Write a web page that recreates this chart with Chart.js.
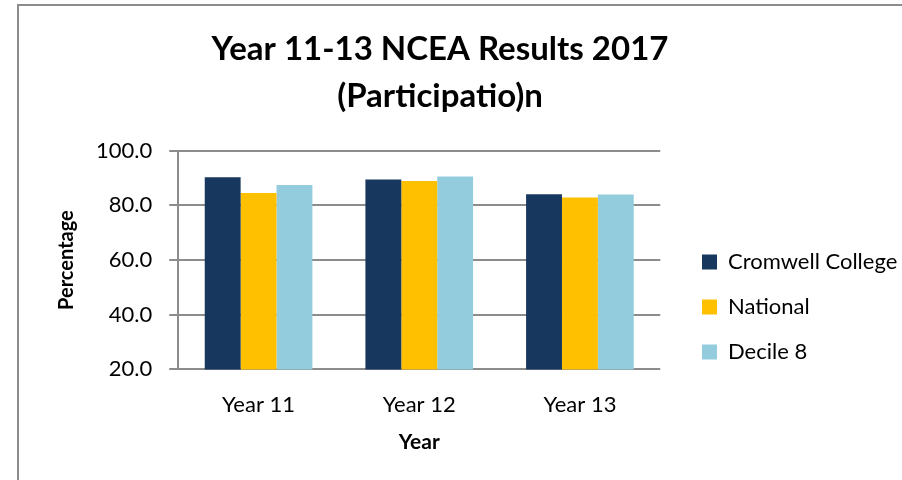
<!DOCTYPE html>
<html>
<head>
<meta charset="utf-8">
<script src="https://cdn.jsdelivr.net/npm/chart.js@4/dist/chart.umd.min.js"></script>
<style>
  html, body { margin: 0; padding: 0; background: #fff; }
  #wrap { position: relative; width: 902px; height: 480px; overflow: hidden; }
  #frame { position: absolute; left: 17px; top: 4px; width: 1000px; height: 1000px; border: 2px solid #8c8c8c; box-sizing: border-box; }
  canvas { position: absolute; left: 0; top: 0; }
</style>
</head>
<body>
<div id="wrap">
  <div id="frame"></div>
  <canvas id="chart" width="902" height="480"></canvas>
</div>
<script>
// Categories, series and ticks
var years = ["Year 11", "Year 12", "Year 13"];
var cromwell = [90.3, 89.5, 84.1];
var national = [84.5, 88.9, 82.9];
var decile8 = [87.5, 90.6, 84.0];
var yTicks = [20, 40, 60, 80, 100];

var fontFamily = "Lato, 'Open Sans', sans-serif";

// Moves the legend and the title to where the reference has them
var placeBlocks = {
    id: 'placeBlocks',
    afterLayout: function(chart) {
        var lg = chart.legend;
        lg.left = 679;
        lg.right = 902;   // legend clips to its box, so give the labels room
        lg.width = lg.right - lg.left;
        lg.top = 228;
        lg.bottom = 410;
        lg.height = lg.bottom - lg.top;

        // title is centred on the chart frame, not on the canvas
        chart.titleBlock.left = 18;
        chart.titleBlock.right = 862;
    }
};

var ctx = document.getElementById('chart').getContext('2d');

var myChart = new Chart(ctx, {
    type: 'bar',
    data: {
        labels: years,
        datasets: [
            { label: 'Cromwell College', data: cromwell, backgroundColor: '#17375E' },
            { label: 'National', data: national, backgroundColor: '#FFC000' },
            { label: 'Decile 8', data: decile8, backgroundColor: '#93CDDD' }
        ]
    },
    options: {
        responsive: false,
        animation: false,
        layout: {
            padding: { left: 40, right: 35, top: 6, bottom: 25 }
        },
        datasets: {
            bar: {
                barPercentage: 1.0,
                categoryPercentage: 0.67
            }
        },
        scales: {
            x: {
                // no tick marks drawn, but tickLength is used as the gap above the labels
                grid: { display: false, drawTicks: true, tickLength: 22 },
                border: { display: false },
                ticks: {
                    color: '#000',
                    font: { family: fontFamily, size: 22 },
                    padding: 0
                },
                title: {
                    display: true,
                    text: 'Year',
                    color: '#000',
                    font: { family: fontFamily, size: 21, weight: 'bold' },
                    padding: { top: 12, bottom: 0 }
                }
            },
            y: {
                min: 20,
                max: 100,
                afterBuildTicks: function(axis) {
                    axis.ticks = yTicks.map(function(v) { return { value: v }; });
                },
                grid: {
                    color: '#8c8c8c',
                    lineWidth: 2,
                    tickLength: 9
                },
                border: { display: true, color: '#8c8c8c', width: 2 },
                ticks: {
                    color: '#000',
                    font: { family: fontFamily, size: 22 },
                    padding: 17,
                    callback: function(value) { return value.toFixed(1); }
                },
                title: {
                    display: true,
                    text: 'Percentage',
                    color: '#000',
                    font: { family: fontFamily, size: 20, weight: 'bold' },
                    padding: { top: 15, bottom: 0 }
                }
            }
        },
        plugins: {
            title: {
                display: true,
                text: ['Year 11-13 NCEA Results 2017', '(Participatio)n'],
                color: '#000',
                font: { family: fontFamily, size: 33, weight: 'bold', lineHeight: 1.42 },
                padding: { top: 20, bottom: 31 }
            },
            legend: {
                position: 'right',
                align: 'start',
                labels: {
                    color: '#000',
                    font: { family: fontFamily, size: 22 },
                    boxWidth: 15,
                    boxHeight: 15,
                    padding: 23
                }
            },
            tooltip: { enabled: false }
        }
    },
    plugins: [placeBlocks]
});
</script>
</body>
</html>
